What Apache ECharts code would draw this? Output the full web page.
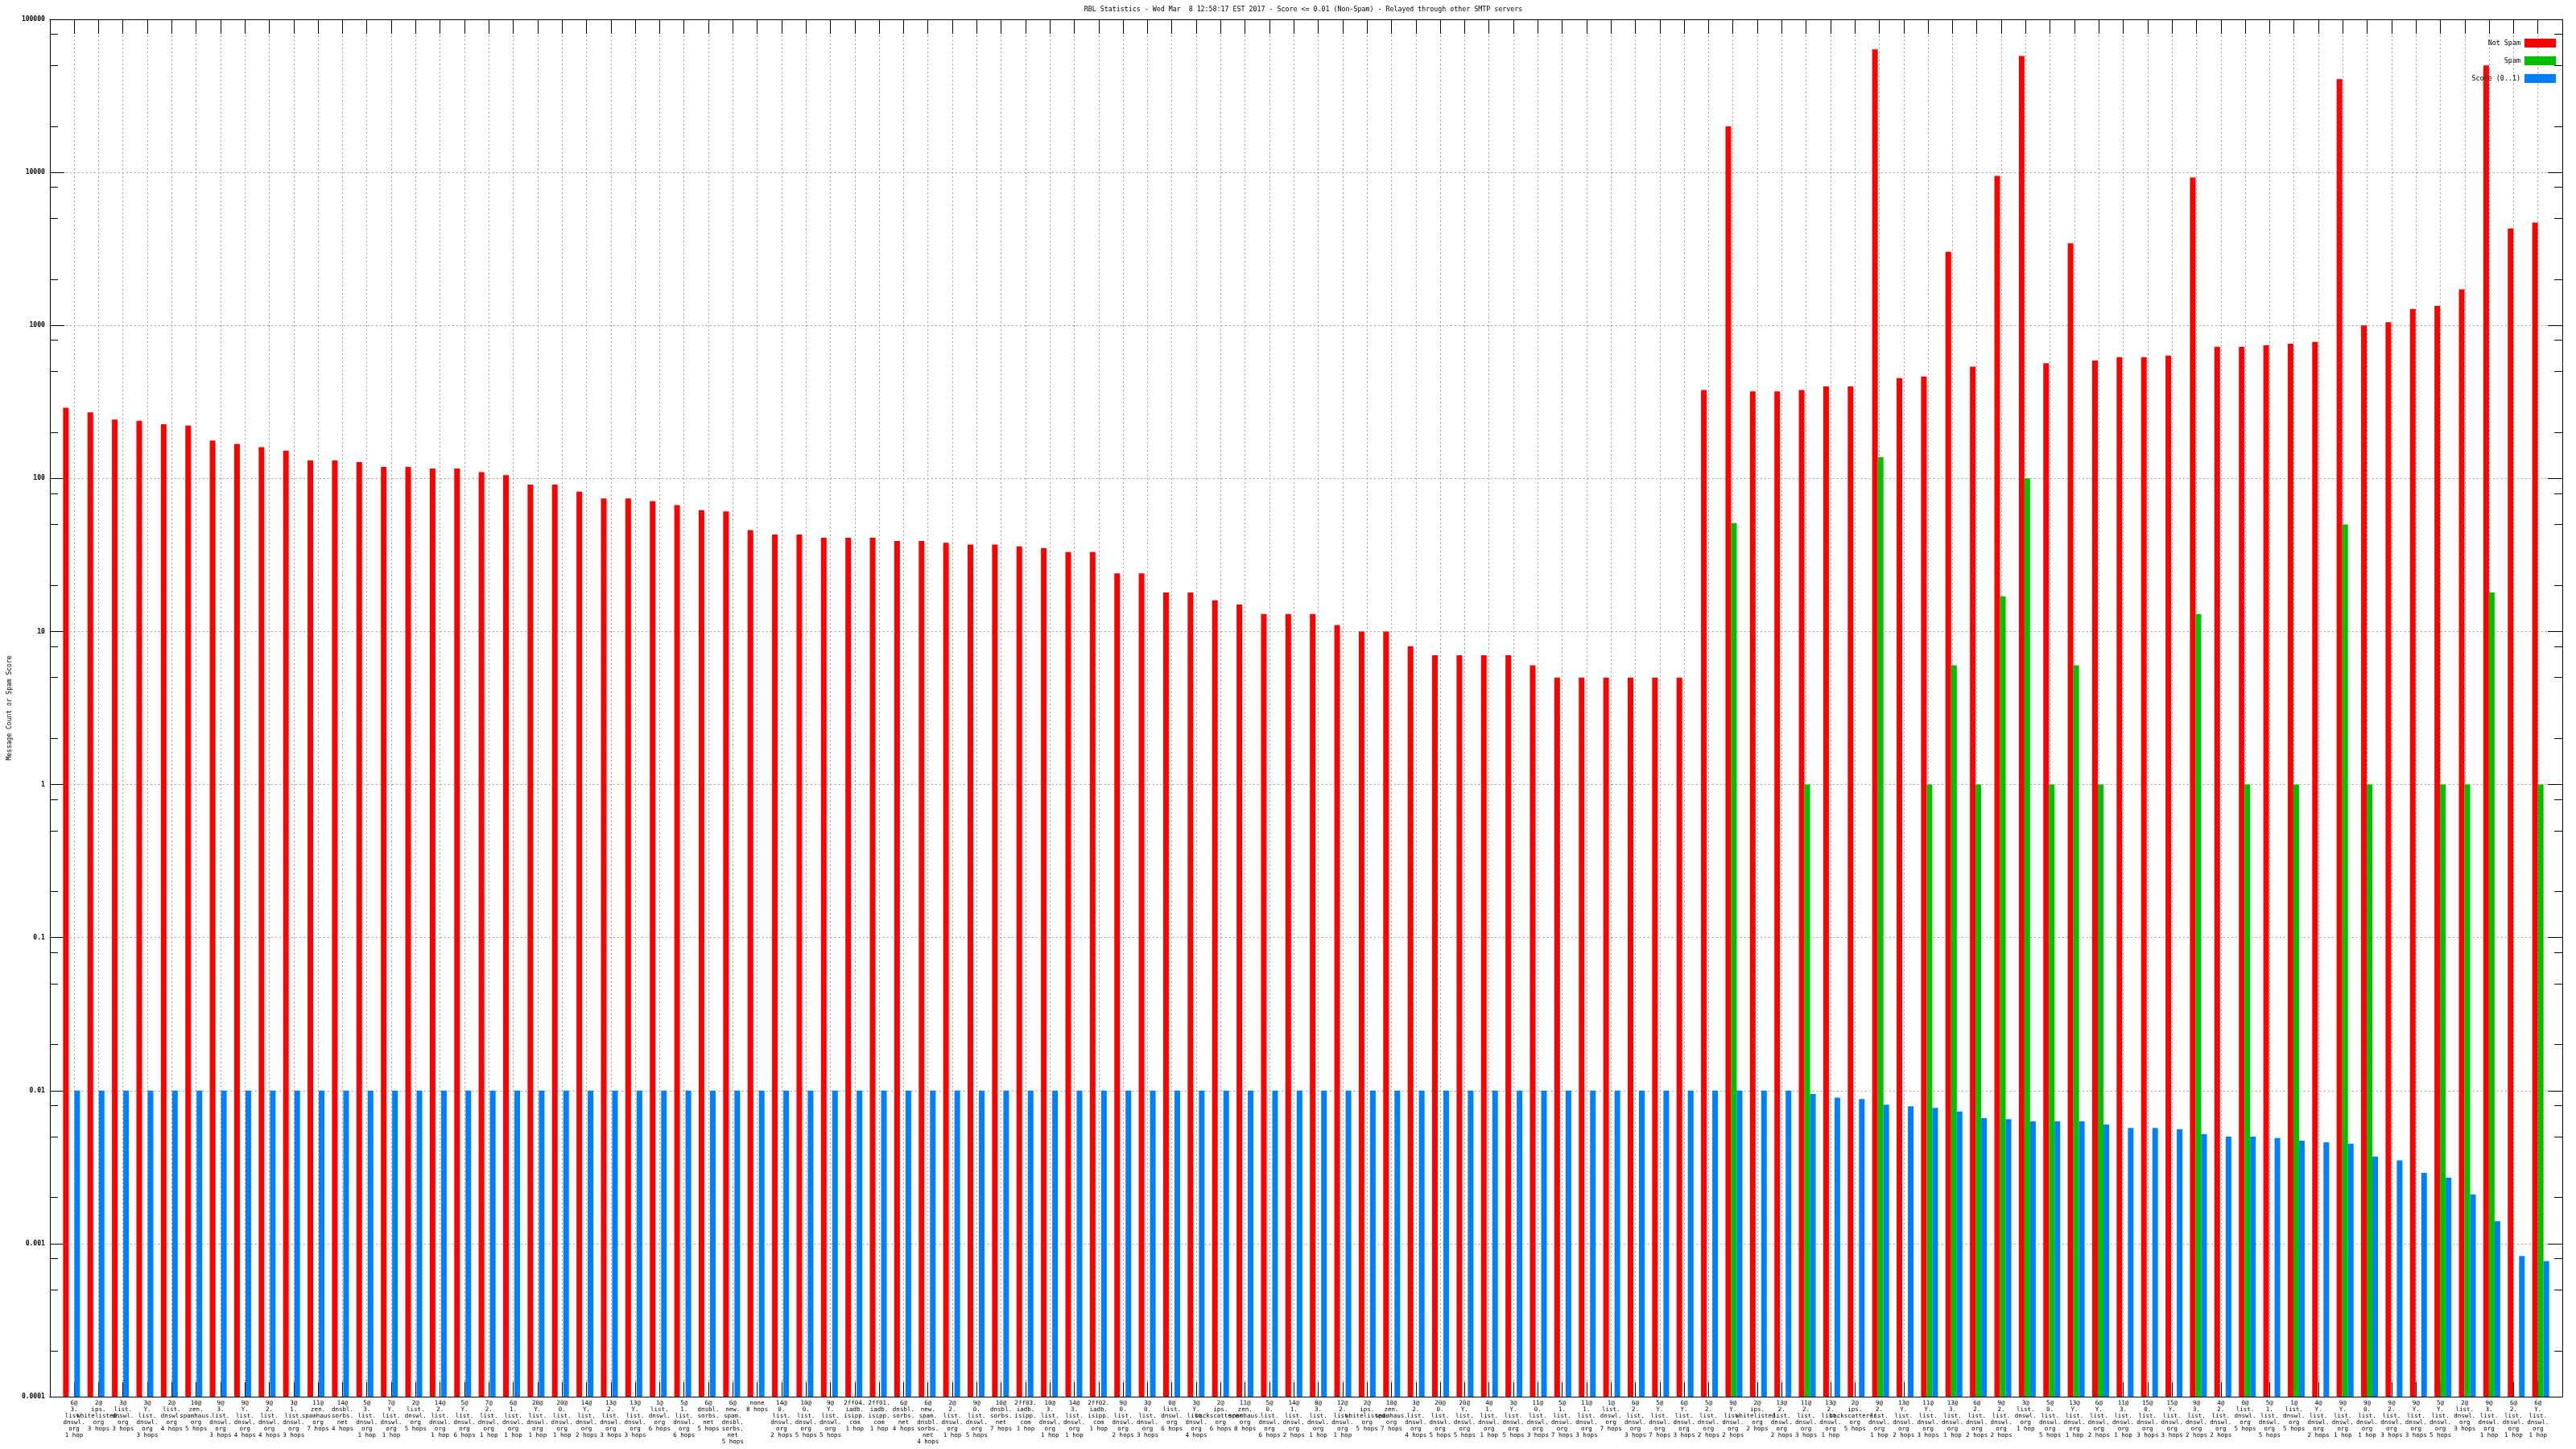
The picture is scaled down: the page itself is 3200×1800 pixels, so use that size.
<!DOCTYPE html>
<html><head><meta charset="utf-8">
<script src="https://cdn.jsdelivr.net/npm/echarts@6/dist/echarts.min.js"></script>
<style>html,body{margin:0;padding:0;background:#fff}#c{width:3200px;height:1800px}</style>
</head><body><div id="c"></div>
<script>
const titleText = 'RBL Statistics - Wed Mar  8 12:58:17 EST 2017 - Score <= 0.01 (Non-Spam) - Relayed through other SMTP servers';
const categories = [
 '6@3.list.dnswl.org 1 hop','2@ips.whitelisted.org 3 hops','3@list.dnswl.org 3 hops','3@Y.list.dnswl.org 3 hops','2@list.dnswl.org 4 hops',
 '10@zen.spamhaus.org 5 hops','9@3.list.dnswl.org 3 hops','9@Y.list.dnswl.org 4 hops','9@2.list.dnswl.org 4 hops','3@1.list.dnswl.org 3 hops',
 '11@zen.spamhaus.org 7 hops','14@dnsbl.sorbs.net 4 hops','5@3.list.dnswl.org 1 hop','7@Y.list.dnswl.org 1 hop','2@list.dnswl.org 5 hops',
 '14@2.list.dnswl.org 1 hop','5@Y.list.dnswl.org 6 hops','7@2.list.dnswl.org 1 hop','6@1.list.dnswl.org 1 hop','20@Y.list.dnswl.org 1 hop',
 '20@0.list.dnswl.org 1 hop','14@Y.list.dnswl.org 2 hops','13@2.list.dnswl.org 3 hops','13@Y.list.dnswl.org 3 hops','1@list.dnswl.org 6 hops',
 '5@1.list.dnswl.org 6 hops','6@dnsbl.sorbs.net 5 hops','6@new.spam.dnsbl.sorbs.net 5 hops','none 8 hops','14@0.list.dnswl.org 2 hops',
 '10@0.list.dnswl.org 5 hops','9@Y.list.dnswl.org 5 hops','2ff04.iadb.isipp.com 1 hop','2ff01.iadb.isipp.com 1 hop','6@dnsbl.sorbs.net 4 hops',
 '6@new.spam.dnsbl.sorbs.net 4 hops','2@2.list.dnswl.org 1 hop','9@0.list.dnswl.org 5 hops','10@dnsbl.sorbs.net 7 hops','2ff03.iadb.isipp.com 1 hop',
 '10@3.list.dnswl.org 1 hop','14@3.list.dnswl.org 1 hop','2ff02.iadb.isipp.com 1 hop','9@0.list.dnswl.org 2 hops','3@0.list.dnswl.org 3 hops',
 '0@list.dnswl.org 6 hops','3@Y.list.dnswl.org 4 hops','2@ips.backscatterer.org 6 hops','11@zen.spamhaus.org 8 hops','5@0.list.dnswl.org 6 hops',
 '14@1.list.dnswl.org 2 hops','8@3.list.dnswl.org 1 hop','12@2.list.dnswl.org 1 hop','2@ips.whitelisted.org 5 hops','10@zen.spamhaus.org 7 hops',
 '3@2.list.dnswl.org 4 hops','20@0.list.dnswl.org 5 hops','20@Y.list.dnswl.org 5 hops','4@1.list.dnswl.org 1 hop','3@Y.list.dnswl.org 5 hops',
 '11@0.list.dnswl.org 3 hops','5@1.list.dnswl.org 7 hops','11@1.list.dnswl.org 3 hops','1@list.dnswl.org 7 hops','6@2.list.dnswl.org 3 hops',
 '5@Y.list.dnswl.org 7 hops','6@Y.list.dnswl.org 3 hops','5@2.list.dnswl.org 2 hops','9@Y.list.dnswl.org 2 hops','2@ips.whitelisted.org 2 hops',
 '13@2.list.dnswl.org 2 hops','11@2.list.dnswl.org 3 hops','13@2.list.dnswl.org 1 hop','2@ips.backscatterer.org 5 hops','9@2.list.dnswl.org 1 hop',
 '13@Y.list.dnswl.org 2 hops','11@Y.list.dnswl.org 3 hops','13@3.list.dnswl.org 1 hop','6@2.list.dnswl.org 2 hops','9@2.list.dnswl.org 2 hops',
 '3@list.dnswl.org 1 hop','5@0.list.dnswl.org 5 hops','13@Y.list.dnswl.org 1 hop','6@Y.list.dnswl.org 2 hops','11@3.list.dnswl.org 1 hop',
 '15@0.list.dnswl.org 3 hops','15@Y.list.dnswl.org 3 hops','9@3.list.dnswl.org 2 hops','4@2.list.dnswl.org 2 hops','0@list.dnswl.org 5 hops',
 '5@1.list.dnswl.org 5 hops','1@list.dnswl.org 5 hops','4@Y.list.dnswl.org 2 hops','9@Y.list.dnswl.org 1 hop','9@0.list.dnswl.org 1 hop',
 '9@2.list.dnswl.org 3 hops','9@Y.list.dnswl.org 3 hops','5@Y.list.dnswl.org 5 hops','2@list.dnswl.org 3 hops','9@3.list.dnswl.org 1 hop',
 '6@2.list.dnswl.org 1 hop','6@Y.list.dnswl.org 1 hop'
];
const notSpam = [
 290,270,242,238,226,221,177,168,160,152,
 131,131,128,119,119,116,116,110,105,91,
 91,82,74,74,71,67,62,61,46,43,
 43,41,41,41,39,39,38,37,37,36,
 35,33,33,24,24,18,18,16,15,13,
 13,13,11,10,10,8,7,7,7,7,
 6,5,5,5,5,5,5,378,20000,370,
 370,378,400,400,63600,452,463,3030,538,9470,
 57600,565,3440,590,620,620,635,9250,725,725,
 740,760,780,40700,1000,1050,1280,1340,1720,50000,
 4300,4700
];
const spam = [
 null,null,null,null,null,null,null,null,null,null,
 null,null,null,null,null,null,null,null,null,null,
 null,null,null,null,null,null,null,null,null,null,
 null,null,null,null,null,null,null,null,null,null,
 null,null,null,null,null,null,null,null,null,null,
 null,null,null,null,null,null,null,null,null,null,
 null,null,null,null,null,null,null,null,51,null,
 null,1,null,null,138,null,1,6,1,17,
 100,1,6,1,null,null,null,13,null,1,
 null,1,null,50,1,null,null,1,1,18,
 null,1
];
const score = [
 0.01,0.01,0.01,0.01,0.01,0.01,0.01,0.01,0.01,0.01,
 0.01,0.01,0.01,0.01,0.01,0.01,0.01,0.01,0.01,0.01,
 0.01,0.01,0.01,0.01,0.01,0.01,0.01,0.01,0.01,0.01,
 0.01,0.01,0.01,0.01,0.01,0.01,0.01,0.01,0.01,0.01,
 0.01,0.01,0.01,0.01,0.01,0.01,0.01,0.01,0.01,0.01,
 0.01,0.01,0.01,0.01,0.01,0.01,0.01,0.01,0.01,0.01,
 0.01,0.01,0.01,0.01,0.01,0.01,0.01,0.01,0.01,0.01,
 0.01,0.0095,0.009,0.0088,0.0081,0.0079,0.0077,0.0073,0.0066,0.0065,
 0.0063,0.0063,0.0063,0.006,0.0057,0.0057,0.0056,0.0052,0.005,0.005,
 0.0049,0.0047,0.0046,0.0045,0.0037,0.0035,0.0029,0.0027,0.0021,0.0014,
 0.00083,0.00077
];
const yTickLabels = ['0.0001','0.001','0.01','0.1','1','10','100','1000','10000','100000'];
const seriesNames = ['Not Spam','Spam','Score (0..1)'];
const seriesColors = ['#ff0000','#00c000','#0080ff'];

const FONT = '"DejaVu Sans Mono", monospace';
const minorTicks = [];
for (let e = -4; e < 5; e++) [2,5,8].forEach(m => minorTicks.push(+(m * Math.pow(10, e)).toPrecision(3)));
const xData = [''].concat(categories, ['']);
const pad = a => [null].concat(a, [null]);
const wrapLabel = s => s ? s.replace(' ', '\n').replace(/@/g, '@\n').replace(/\./g, '.\n') : '';
const black = {color:'#000', width:1};
const gridLine = {color:'#a0a0a0', width:1, type:[2,3]};
const logBase = {type:'log', logBase:10, min:1e-4, max:1e5, splitNumber:9};

const chart = echarts.init(document.getElementById('c'), null, {renderer:'canvas', width:3200, height:1800});
const legends = seriesNames.map((n, i) => ({
  data:[n], orient:'vertical', align:'right', right:25, top:48 + i*22, padding:0,
  icon:'rect', itemWidth:39, itemHeight:11, selectedMode:false,
  textStyle:{fontFamily:FONT, fontSize:8.4, color:'#000'}
}));
chart.setOption({
  animation:false,
  backgroundColor:'#fff',
  graphic:[{type:'text', x:1619, y:12, style:{text:titleText, font:'8.3px "DejaVu Sans Mono"', fill:'#000', align:'center', verticalAlign:'middle'}}],
  legend:legends,
  grid:[{left:55, right:17, top:24, bottom:65}, {left:58.5, right:13.5, top:24, bottom:65}],
  xAxis:[
    {gridIndex:0, type:'category', data:xData, boundaryGap:false, position:'bottom',
     axisLine:{show:true, lineStyle:black},
     axisTick:{show:true, inside:true, length:18, interval:0, lineStyle:black},
     axisLabel:{interval:0, margin:4, fontFamily:FONT, fontSize:7.5, lineHeight:8, color:'#000', formatter:wrapLabel},
     splitLine:{show:true, interval:0, lineStyle:gridLine}},
    {gridIndex:0, type:'category', data:xData, boundaryGap:false, position:'top',
     axisLine:{show:true, lineStyle:black},
     axisTick:{show:true, inside:true, length:18, interval:0, lineStyle:black},
     axisLabel:{show:false}, splitLine:{show:false}},
    {gridIndex:1, type:'category', data:xData, boundaryGap:false, show:false}
  ],
  yAxis:[
    Object.assign({gridIndex:0, position:'left',
     axisLine:{show:true, lineStyle:black},
     axisTick:{show:true, inside:true, length:18, lineStyle:black},
     axisLabel:{fontFamily:FONT, fontSize:8, fontWeight:'bold', color:'#000', margin:6,
       formatter:v => yTickLabels[Math.round(Math.log10(v)) + 4]},
     splitLine:{show:true, lineStyle:gridLine},
     name:'Message Count or Spam Score', nameLocation:'middle', nameGap:44,
     nameTextStyle:{fontFamily:FONT, fontSize:8, color:'#000'}}, logBase),
    Object.assign({gridIndex:0, position:'left', axisLine:{show:false},
     axisTick:{show:true, inside:true, length:10, customValues:minorTicks, lineStyle:black},
     axisLabel:{show:false}, splitLine:{show:false}}, logBase),
    Object.assign({gridIndex:0, position:'right', axisLine:{show:true, lineStyle:black},
     axisTick:{show:true, inside:true, length:18, lineStyle:black},
     axisLabel:{show:false}, splitLine:{show:false}}, logBase),
    Object.assign({gridIndex:0, position:'right', axisLine:{show:false},
     axisTick:{show:true, inside:true, length:10, customValues:minorTicks, lineStyle:black},
     axisLabel:{show:false}, splitLine:{show:false}}, logBase),
    Object.assign({gridIndex:1, show:false, startValue:1e-4}, logBase)
  ],
  series:[notSpam, spam, score].map((d, i) => ({
    name:seriesNames[i], type:'bar', xAxisIndex:2, yAxisIndex:4,
    data:pad(d), barWidth:7, barGap:'0%', itemStyle:{color:seriesColors[i]},
    emphasis:{disabled:true}
  }))
});
</script></body></html>
